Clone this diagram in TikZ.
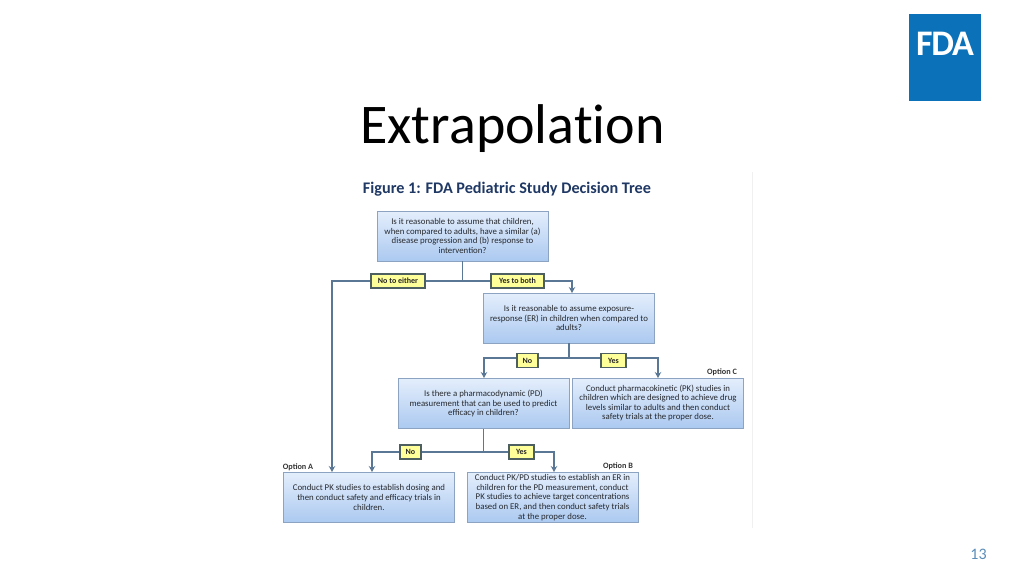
\documentclass[tikz,border=0pt]{standalone}
\usepackage{fontspec}
\setmainfont{Carlito}
\newfontfamily\titlefont[Ligatures=NoCommon]{Carlito}
\usepackage{tikz}
\usetikzlibrary{arrows.meta, shadows}
\definecolor{fdablue}{HTML}{0B71B9}
\definecolor{boxtop}{HTML}{E4EEFC}
\definecolor{boxbot}{HTML}{ABC9F0}
\definecolor{boxline}{HTML}{8CA3C2}
\definecolor{flowline}{HTML}{5A7896}
\definecolor{tagline}{HTML}{4E5F62}
\definecolor{tagfill}{HTML}{FFFF99}
\definecolor{headblue}{HTML}{1F3864}
\definecolor{bodygrey}{HTML}{26292E}
\definecolor{pagenum}{HTML}{5B8DB8}
\tikzset{
  qbox/.style={rectangle, draw=boxline, line width=0.8pt, top color=boxtop, bottom color=boxbot,
    minimum width=171pt, minimum height=50pt, inner sep=0pt, align=center, text=bodygrey,
    font=\fontsize{8.8}{9.6}\selectfont, drop shadow={shadow xshift=0.8pt, shadow yshift=-0.8pt, fill=black!35}},
  tagbox/.style={rectangle, draw=tagline, line width=1.1pt, fill=tagfill, inner sep=0pt,
    minimum height=14pt, text=black!85, font=\fontsize{8}{9}\selectfont\bfseries},
  optlabel/.style={inner sep=0pt, text=black!80, font=\fontsize{8.2}{9}\selectfont\bfseries},
  flow/.style={draw=flowline, line width=1.2pt},
  flowto/.style={flow, -{Stealth[length=6pt, width=6.5pt, inset=2pt]}}
}

\begin{document}
\begin{tikzpicture}[x=1pt, y=-1pt]
        \useasboundingbox (0, 0) rectangle (1024, 576);
        \draw[black!6, line width=1.5pt] (752.5, 172) -- (752.5, 528);

        \node[inner sep=0pt, font=\titlefont\fontsize{56}{60}\selectfont] (title) at (512.5, 129) {Extrapolation};
        \node[inner sep=0pt, text=pagenum, font=\fontsize{16}{18}\selectfont] (page) at (978.5, 554) {13};
        \node[rectangle, fill=fdablue, minimum width=72pt, minimum height=87pt, inner sep=0pt] (logo) at (945, 57.5) {};
        \node[inner sep=0pt, text=white] (logotext) at (945, 43.5) {\fontsize{36}{36}\selectfont\bfseries\addfontfeature{LetterSpace=-3}FDA};
        \node[inner sep=0pt, text=headblue, font=\fontsize{16.2}{18}\selectfont\bfseries] (head) at (507, 189.5) {Figure 1: FDA Pediatric Study Decision Tree};

        \node[qbox] (q1) at (462.5, 236) {Is it reasonable to assume that children,\\when compared to adults, have a similar (a)\\disease progression and (b) response to\\intervention?};
        \node[qbox] (q2) at (569, 318) {Is it reasonable to assume exposure-\\response (ER) in children when compared to\\adults?};
        \node[qbox] (q3) at (483.5, 403.5) {Is there a pharmacodynamic (PD)\\measurement that can be used to predict\\efficacy in children?};
        \node[qbox] (optc) at (658, 403) {Conduct pharmacokinetic (PK) studies in\\children which are designed to achieve drug\\levels similar to adults and then conduct\\safety trials at the proper dose.};
        \node[qbox] (opta) at (369, 497.5) {Conduct PK studies to establish dosing and\\then conduct safety and efficacy trials in\\children.};
        \node[qbox] (optb) at (552.5, 497.5) {Conduct PK/PD studies to establish an ER in\\children for the PD measurement, conduct\\PK studies to achieve target concentrations\\based on ER, and then conduct safety trials\\at the proper dose.};

        \node[tagbox, minimum width=54pt] (noeither) at (398, 281) {No to either};
        \node[tagbox, minimum width=53pt] (yesboth) at (517.5, 281) {Yes to both};
        \node[tagbox, minimum width=21pt] (no2) at (527.5, 360.5) {No};
        \node[tagbox, minimum width=25pt] (yes2) at (613.5, 360.5) {Yes};
        \node[tagbox, minimum width=21pt] (no3) at (410.5, 452) {No};
        \node[tagbox, minimum width=25pt] (yes3) at (521.5, 452) {Yes};

        \node[optlabel] (labelc) at (722, 372) {Option C};
        \node[optlabel] (labela) at (298, 467) {Option A};
        \node[optlabel] (labelb) at (618, 466) {Option B};

        % joints under the question boxes, arrow ends on the box tops
        \coordinate (j1) at (462.5, 281);
        \coordinate (j2) at (569, 358);
        \coordinate (j3) at (483.5, 452);
        \coordinate (in2) at (572, 293);
        \coordinate (in3) at (484, 378);
        \coordinate (inc) at (658, 378);
        \coordinate (ina1) at (332, 472);
        \coordinate (ina2) at (372, 472);
        \coordinate (inb) at (554, 472);

        \draw[flow] (q1.south) -- (j1);
        \draw[flow] (q2.south) -- (j2);
        \draw[flow] (q3.south) -- (j3);
        \foreach \from/\to in {
          j1/noeither.east, j1/yesboth.west,
          j3/no3.east, j3/yes3.west}
        \draw[flow] (\from) -- (\to);
        \foreach \from/\to in {
          noeither/ina1, yesboth/in2,
          no3/ina2, yes3/inb}
        \draw[flowto] (\from) -| (\to);
        % the tags on the second level sit a little under their line
        \draw[flow] (j2) -- (j2 -| no2.east);
        \draw[flow] (j2) -- (j2 -| yes2.west);
        \draw[flowto] (j2 -| no2.west) -| (in3);
        \draw[flowto] (j2 -| yes2.east) -| (inc);
      \end{tikzpicture}
\end{document}
